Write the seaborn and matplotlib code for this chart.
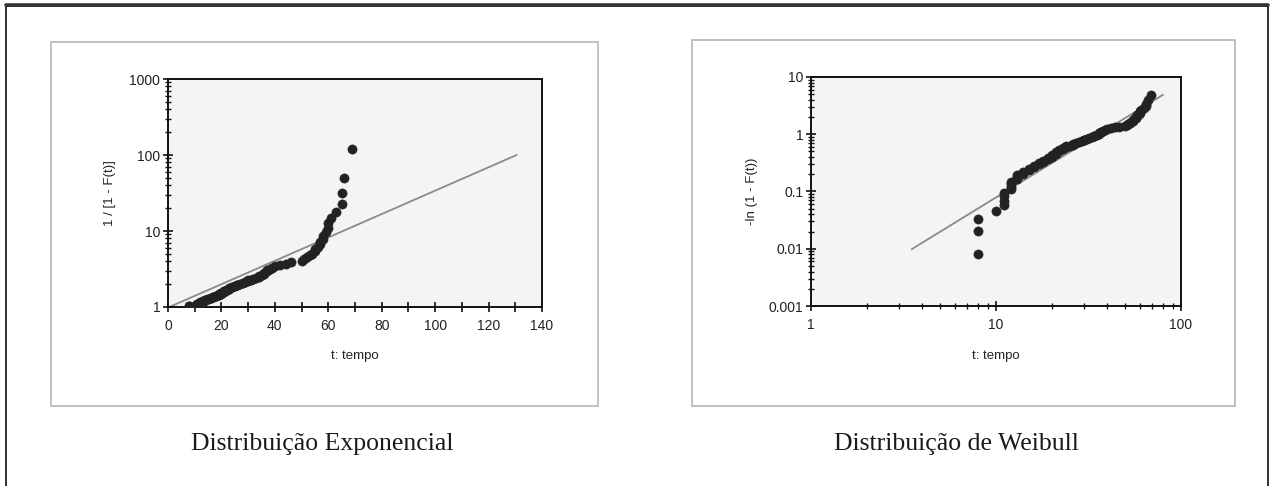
import numpy as np
import pandas as pd
import matplotlib
matplotlib.use("Agg")
import matplotlib.pyplot as plt
import matplotlib.ticker as mticker
from matplotlib.patches import Rectangle
from matplotlib.lines import Line2D
import seaborn as sns

# ---------------- data ----------------
t_tempo = [8, 8, 8, 10, 11, 11, 11, 11, 12, 12, 12, 12,
           13, 13, 13, 14, 14, 15, 15, 16, 16, 17, 17, 18,
           18, 19, 19, 20, 20, 20, 21, 21, 21, 22, 22, 23,
           23, 24, 24, 25, 26, 26, 27, 28, 29, 30, 30, 31,
           32, 33, 34, 34, 35, 36, 36, 37, 37, 38, 39, 40,
           42, 44, 46, 50, 51, 52, 53, 54, 55, 55, 56, 57,
           57, 58, 58, 59, 60, 60, 61, 63, 65, 65, 66, 69]

inv_surv = [1.008, 1.021, 1.033, 1.046, 1.059, 1.072, 1.086, 1.100, 1.115, 1.130, 1.145, 1.161,
            1.177, 1.194, 1.211, 1.229, 1.247, 1.265, 1.285, 1.305, 1.325, 1.346, 1.368, 1.390,
            1.414, 1.438, 1.463, 1.489, 1.515, 1.543, 1.572, 1.602, 1.633, 1.665, 1.698, 1.733,
            1.769, 1.807, 1.847, 1.888, 1.931, 1.977, 2.024, 2.074, 2.126, 2.181, 2.239, 2.300,
            2.364, 2.432, 2.505, 2.581, 2.663, 2.749, 2.842, 2.941, 3.047, 3.161, 3.284, 3.417,
            3.561, 3.718, 3.889, 4.077, 4.284, 4.513, 4.768, 5.054, 5.376, 5.742, 6.161, 6.646,
            7.214, 7.888, 8.701, 9.701, 10.96, 12.60, 14.81, 17.96, 22.81, 31.26, 49.65, 120.6]

# fitted reference lines (endpoints)
exp_fit_t = [0.5, 130.5]
exp_fit_y = [1.0, 100.0]
wei_fit_t = [3.5, 80.0]
wei_fit_y = [0.0098, 4.9]

x_label = "t: tempo"
exp_ylabel = "1 / [1 - F(t)]"
wei_ylabel = "-ln (1 - F(t))"
exp_title = "Distribuição Exponencial"
wei_title = "Distribuição de Weibull"

exp_xticks = [0, 20, 40, 60, 80, 100, 120, 140]
exp_yticks = [1, 10, 100, 1000]
wei_xticks = [1, 10, 100]
wei_yticks = [0.001, 0.01, 0.1, 1, 10]

# ---------------- figure ----------------
sns.set_theme(style="white")
plt.rcParams["font.family"] = ["Liberation Sans", "DejaVu Sans"]

W, H = 1272, 486
fig = plt.figure(figsize=(W / 100, H / 100), dpi=100)
fig.patch.set_facecolor("white")

def fx(px):
    return px / W

def fy(py):
    return 1 - py / H

# outer frame (bottom edge lies below the image)
fig.add_artist(Rectangle((fx(6), fy(520)), fx(1268) - fx(6), fy(6) - fy(520),
                         transform=fig.transFigure, fill=False,
                         edgecolor="#222222", linewidth=1.3, zorder=0))
fig.add_artist(Line2D([fx(6), fx(1268)], [fy(5.5), fy(5.5)], transform=fig.transFigure,
                      color="#333333", linewidth=2.6, zorder=0))

# inner panel boxes
for (x0, y0, x1, y1) in [(51, 42, 598, 406), (692, 40, 1235, 406)]:
    fig.add_artist(Rectangle((fx(x0), fy(y1)), fx(x1) - fx(x0), fy(y0) - fy(y1),
                             transform=fig.transFigure, fill=False,
                             edgecolor="#b5b5b5", linewidth=1.2, zorder=0))

ax1 = fig.add_axes([fx(168), fy(307), fx(542) - fx(168), fy(79) - fy(307)])
ax2 = fig.add_axes([fx(811), fy(306), fx(1181) - fx(811), fy(77) - fy(306)])

df = pd.DataFrame({"t": t_tempo, "inv": inv_surv})
df["wei"] = np.log(df["inv"])

dot_color = "#222222"
line_color = "#8a8a8a"

# exponential
sns.lineplot(x=exp_fit_t, y=exp_fit_y, ax=ax1, color=line_color, linewidth=1.3, zorder=2)
sns.scatterplot(data=df, x="t", y="inv", ax=ax1, color=dot_color, s=44,
                edgecolor=dot_color, linewidth=0.4, zorder=3)
ax1.set_yscale("log")
ax1.set_xlim(0, 140)
ax1.set_ylim(1, 1000)
ax1.set_xticks(exp_xticks)
ax1.xaxis.set_minor_locator(mticker.MultipleLocator(10))
ax1.set_yticks(exp_yticks)
ax1.yaxis.set_major_formatter(mticker.FuncFormatter(lambda v, p: f"{v:g}"))
ax1.yaxis.set_minor_locator(mticker.LogLocator(base=10, subs=np.arange(2, 10)))
ax1.yaxis.set_minor_formatter(mticker.NullFormatter())

# weibull
sns.lineplot(x=wei_fit_t, y=wei_fit_y, ax=ax2, color=line_color, linewidth=1.3, zorder=2)
sns.scatterplot(data=df, x="t", y="wei", ax=ax2, color=dot_color, s=44,
                edgecolor=dot_color, linewidth=0.4, zorder=3)
ax2.set_xscale("log")
ax2.set_yscale("log")
ax2.set_xlim(1, 100)
ax2.set_ylim(0.001, 10)
ax2.set_xticks(wei_xticks)
ax2.set_yticks(wei_yticks)
ax2.xaxis.set_major_formatter(mticker.FuncFormatter(lambda v, p: f"{v:g}"))
ax2.yaxis.set_major_formatter(mticker.FuncFormatter(lambda v, p: f"{v:g}"))
for axis in (ax2.xaxis, ax2.yaxis):
    axis.set_minor_locator(mticker.LogLocator(base=10, subs=np.arange(2, 10)))
    axis.set_minor_formatter(mticker.NullFormatter())

for ax, ylab, ycoord in ((ax1, exp_ylabel, -0.139), (ax2, wei_ylabel, -0.143)):
    ax.set_facecolor("#f4f4f4")
    for sp in ax.spines.values():
        sp.set_color("#111111")
        sp.set_linewidth(1.4)
    ax.tick_params(which="both", bottom=True, left=True, top=False, right=False)
    ax.tick_params(which="major", direction="inout", length=7, width=1.2,
                   color="#111111", labelsize=10, labelcolor="#222222")
    ax.tick_params(which="minor", direction="inout", length=5, width=1.0, color="#111111")
    ax.tick_params(axis="x", which="major", pad=5)
    ax.tick_params(axis="y", which="major", pad=2)
    ax.set_xlabel(x_label, fontsize=9.5, color="#222222")
    ax.set_ylabel(ylab, fontsize=9.5, color="#222222")
    ax.xaxis.set_label_coords(0.5, -0.19)
    ax.yaxis.set_label_coords(ycoord, 0.5)
    ax.grid(False)
    leg = ax.get_legend()
    if leg:
        leg.remove()

ax1.tick_params(axis="x", which="minor", length=7, width=1.2)

fig.text(fx(322), fy(444), exp_title, ha="center", va="center",
         fontsize=18.5, family=["Liberation Serif", "DejaVu Serif"], color="#1a1a1a")
fig.text(fx(956), fy(444), wei_title, ha="center", va="center",
         fontsize=18.5, family=["Liberation Serif", "DejaVu Serif"], color="#1a1a1a")

fig.savefig("out.png", dpi=100, facecolor="white")
